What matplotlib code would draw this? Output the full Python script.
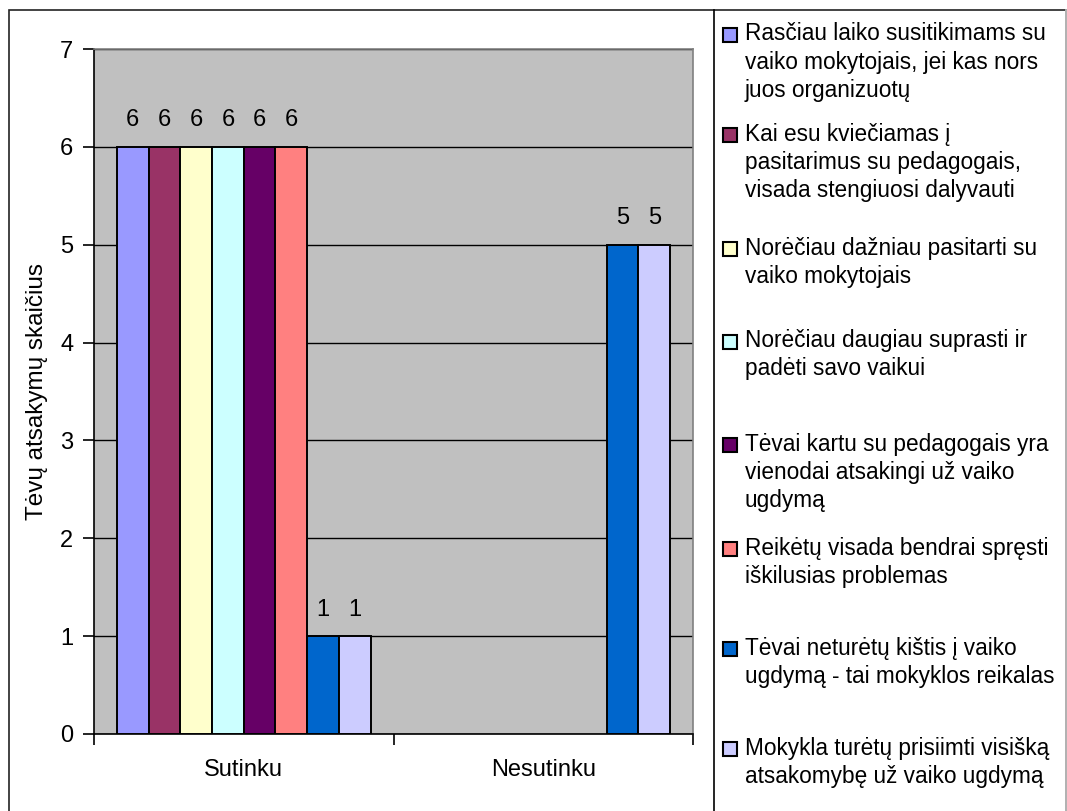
import matplotlib.pyplot as plt
from matplotlib.patches import Rectangle
import numpy as np

plt.rcParams['font.family'] = ['Liberation Sans', 'DejaVu Sans']

categories = ['Sutinku', 'Nesutinku']
series_labels = [
    'Rasčiau laiko susitikimams su\nvaiko mokytojais, jei kas nors\njuos organizuotų',
    'Kai esu kviečiamas į\npasitarimus su pedagogais,\nvisada stengiuosi dalyvauti',
    'Norėčiau dažniau pasitarti su\nvaiko mokytojais',
    'Norėčiau daugiau suprasti ir\npadėti savo vaikui',
    'Tėvai kartu su pedagogais yra\nvienodai atsakingi už vaiko\nugdymą',
    'Reikėtų visada bendrai spręsti\niškilusias problemas',
    'Tėvai neturėtų kištis į vaiko\nugdymą - tai mokyklos reikalas',
    'Mokykla turėtų prisiimti visišką\natsakomybę už vaiko ugdymą',
]
sutinku = [6, 6, 6, 6, 6, 6, 1, 1]
nesutinku = [0, 0, 0, 0, 0, 0, 5, 5]
colors = ['#9999FF', '#993366', '#FFFFCC', '#CCFFFF',
          '#660066', '#FF8080', '#0066CC', '#CCCCFF']
y_label = 'Tėvų atsakymų skaičius'

W, H = 1067, 811
fig = plt.figure(figsize=(W / 100, H / 100), dpi=100)

def fx(px):
    return px / W

def fy(py):
    return 1 - py / H

# chart frame and legend frame
fig.add_artist(Rectangle((fx(9), fy(812)), fx(1066) - fx(9), fy(10) - fy(812),
                         transform=fig.transFigure, fill=False,
                         edgecolor='#222222', lw=1.2))
fig.add_artist(plt.Line2D([fx(1066), fx(1066)], [fy(10), 0], transform=fig.transFigure,
                          color='#c8c8c8', lw=1.2))
fig.add_artist(plt.Line2D([fx(714), fx(714)], [fy(10), 0], transform=fig.transFigure,
                          color='black', lw=1.2))

ax_left, ax_right, ax_top, ax_bottom = 94, 693, 49, 734
ax = fig.add_axes([fx(ax_left), fy(ax_bottom), fx(ax_right) - fx(ax_left),
                   fy(ax_top) - fy(ax_bottom)])
ax.set_facecolor('#C0C0C0')

n = len(series_labels)
width = 0.106
values = np.array([sutinku, nesutinku]).T
x = np.arange(len(categories))
for i in range(n):
    offs = (i - (n - 1) / 2) * width
    for j, v in enumerate(values[i]):
        if v == 0:
            continue
        ax.bar(x[j] + offs, v, width, color=colors[i], edgecolor='black',
               linewidth=1.4, zorder=3)
        ax.annotate(str(v), (x[j] + offs, v), xytext=(0, 19),
                    textcoords='offset points', ha='center', va='center',
                    fontsize=17)

ax.set_xlim(-0.5, 1.5)
ax.set_ylim(0, 7)
ax.set_yticks(range(8))
ax.yaxis.grid(True, color='black', lw=1.0, zorder=1)
ax.set_axisbelow(True)

ax.set_xticks(x)
ax.set_xticklabels(categories, fontsize=17)
ax.tick_params(axis='x', length=0, pad=18)
ax.set_xticks([-0.5, 0.5, 1.5], minor=True)
ax.tick_params(axis='x', which='minor', length=8, width=1.2, direction='out')
ax.tick_params(axis='y', length=8, width=1.2, direction='out', pad=7, labelsize=17)

for side in ['top', 'right']:
    ax.spines[side].set_color('#808080')
    ax.spines[side].set_linewidth(1.2)
for side in ['left', 'bottom']:
    ax.spines[side].set_color('black')
    ax.spines[side].set_linewidth(1.2)

ax.set_ylabel(y_label, fontsize=17.5)
ax.yaxis.set_label_coords((48 - ax_left) / (ax_right - ax_left), 0.5)

# legend entries
entry_y = [33, 133, 247, 340, 443, 547, 647, 747]
line_step = 28
for label, c, y0 in zip(series_labels, colors, entry_y):
    fig.add_artist(Rectangle((fx(723), fy(y0 + 9)), fx(14), 14 / H,
                             transform=fig.transFigure, facecolor=c,
                             edgecolor='black', lw=1.5))
    for k, line in enumerate(label.split('\n')):
        fig.text(fx(745), fy(y0 + k * line_step + 1), line, fontsize=16.3,
                 ha='left', va='center')

fig.savefig('out.png', dpi=100)
